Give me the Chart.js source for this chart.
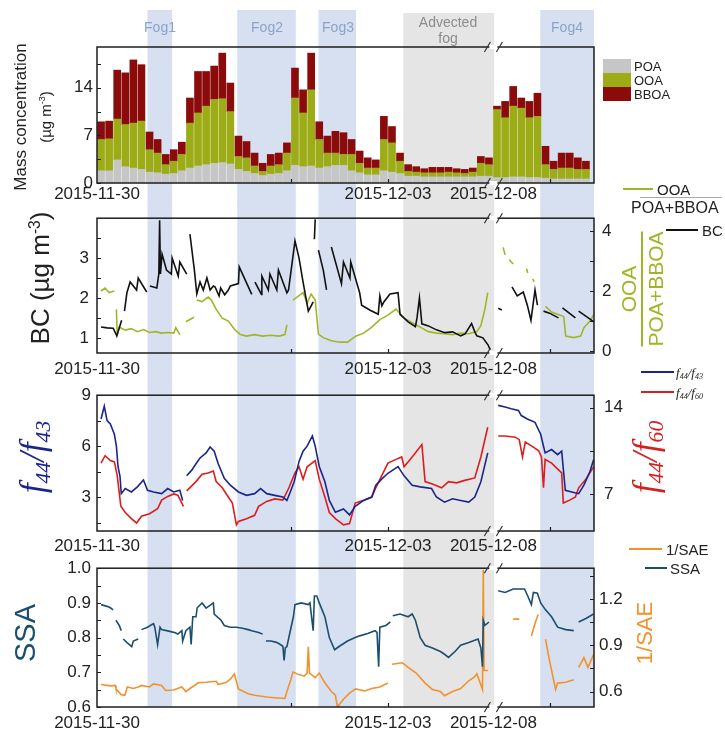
<!DOCTYPE html>
<html>
<head>
<meta charset="utf-8">
<script src="https://cdn.jsdelivr.net/npm/chart.js@4.4.0/dist/chart.umd.min.js"></script>
<style>
  body { margin: 0; background: #fff; font-family: "Liberation Sans", Arial, sans-serif; color: #222; }
  #page { position: relative; width: 725px; height: 729px; overflow: hidden; }
  canvas { position: absolute; left: 0; }
  .lbl { position: absolute; white-space: nowrap; line-height: 1; transform: translate(-50%, -50%); }
  .rot { transform: translate(-50%, -50%) rotate(-90deg); }
  .txt { position: absolute; white-space: nowrap; line-height: 1; transform: translateY(-50%); }
  .key { position: absolute; height: 0; border-top: 2px solid; }
  .sw { position: absolute; width: 28px; height: 14px; }
  .ser { font-family: "Liberation Serif", "DejaVu Serif", serif; font-style: italic; }
  sup { font-size: 0.6em; vertical-align: 0.6em; line-height: 0; }
  sub { font-size: 0.62em; vertical-align: -0.3em; line-height: 0; }
</style>
</head>
<body>
<div id="page">
  <canvas id="c1" width="725" height="201" style="top:0px"></canvas>
  <canvas id="c2" width="725" height="175" style="top:200px"></canvas>
  <canvas id="c3" width="725" height="177" style="top:375px"></canvas>
  <canvas id="c4" width="725" height="177" style="top:552px"></canvas>

  <div class="lbl" style="left:160px;top:27px;font-size:14px;color:#8ca3c9">Fog1</div>
  <div class="lbl" style="left:267px;top:27px;font-size:14px;color:#8ca3c9">Fog2</div>
  <div class="lbl" style="left:338px;top:27px;font-size:14px;color:#8ca3c9">Fog3</div>
  <div class="lbl" style="left:448px;top:22px;font-size:14px;color:#8c8c8c">Advected</div>
  <div class="lbl" style="left:448px;top:38px;font-size:14px;color:#8c8c8c">fog</div>
  <div class="lbl" style="left:567px;top:27px;font-size:14px;color:#8ca3c9">Fog4</div>

  <div class="lbl rot" style="left:20px;top:117px;font-size:17px">Mass concentration</div>
  <div class="lbl rot" style="left:45px;top:117px;font-size:15px">(µg m<sup>-3</sup>)</div>
  <div class="lbl rot" style="left:40px;top:278px;font-size:26px">BC (µg m<sup>-3</sup>)</div>
  <div class="lbl rot" style="left:642px;top:289px;font-size:21px;color:#a2b528;text-align:center">
    <div style="padding:0 2px 2px">OOA</div>
    <div style="border-top:2px solid #a2b528;padding-top:2px">POA+BBOA</div>
  </div>
  <div class="lbl rot ser" style="left:32px;top:457px;font-size:35px;color:#1b258a">f<sub>44</sub>/f<sub>43</sub></div>
  <div class="lbl rot ser" style="left:645px;top:457px;font-size:35px;color:#d42020">f<sub>44</sub>/f<sub>60</sub></div>
  <div class="lbl rot" style="left:25px;top:633px;font-size:29px;color:#1b4e6f">SSA</div>
  <div class="lbl rot" style="left:645px;top:633px;font-size:22px;color:#f2922c">1/SAE</div>

  <div class="sw" style="left:603px;top:59px;background:#c6c6c6"></div>
  <div class="txt" style="left:634px;top:66px;font-size:13px">POA</div>
  <div class="sw" style="left:603px;top:73px;background:#9bac16"></div>
  <div class="txt" style="left:634px;top:80px;font-size:13px">OOA</div>
  <div class="sw" style="left:603px;top:87px;background:#8b0b0b"></div>
  <div class="txt" style="left:634px;top:94px;font-size:13px">BBOA</div>

  <div class="key" style="left:623px;top:188px;width:30px;border-color:#a2b528"></div>
  <div class="txt" style="left:657px;top:189px;font-size:15px">OOA</div>
  <div class="key" style="left:640px;top:197px;width:82px;border-top-width:1px;border-color:#aaa"></div>
  <div class="txt" style="left:631px;top:208px;font-size:16px">POA+BBOA</div>
  <div class="key" style="left:666px;top:229px;width:32px;border-color:#111"></div>
  <div class="txt" style="left:702px;top:230px;font-size:15px">BC</div>

  <div class="key" style="left:641px;top:371px;width:33px;border-color:#1b258a"></div>
  <div class="txt ser" style="left:676px;top:372px;font-size:13px">f<sub>44</sub>/f<sub>43</sub></div>
  <div class="key" style="left:641px;top:391px;width:33px;border-color:#d42020"></div>
  <div class="txt ser" style="left:676px;top:392px;font-size:13px">f<sub>44</sub>/f<sub>60</sub></div>

  <div class="key" style="left:629px;top:548px;width:33px;border-color:#f2922c"></div>
  <div class="txt" style="left:666px;top:549px;font-size:15px">1/SAE</div>
  <div class="key" style="left:645px;top:567px;width:22px;border-color:#1b4e6f"></div>
  <div class="txt" style="left:670px;top:568px;font-size:15px">SSA</div>
</div>

<script>
// x is in plotted hours from 2015-11-30 00:00, with the gap to 2015-12-08 cut out at breakHour
const dateLabels = ['2015-11-30', '2015-12-03', '2015-12-08'];
const dateTickHours = [0, 72, 98.1];
const innerTickHours = [48, 72, 112];
const breakHour = 98.1;
const fogBands = [[12.5, 18.6], [34.7, 49.2], [54.8, 64.1], [109.7, 123]];
const advectedBand = [75.8, 98.3];

// panel 1: stacked mass concentrations, 2-hour bins
const barHours = [1, 3, 5, 7, 9, 11, 13, 15, 17, 19, 21, 23, 25, 27, 29, 31, 33, 35, 37, 39,
  41, 43, 45, 47, 49, 51, 53, 55, 57, 59, 61, 63, 65, 67, 69, 71, 73, 75, 77, 79,
  81, 83, 85, 87, 89, 91, 93, 95, 97, 99, 101, 103, 105, 107, 109, 111, 113, 115, 117, 119, 121];
const poa = [1.8, 1.8, 3.4, 2.4, 2.2, 2.0, 1.6, 1.5, 1.3, 1.4,
  1.8, 2.2, 2.5, 2.7, 2.9, 3.0, 2.8, 2.0, 1.7, 1.4,
  1.1, 1.3, 1.4, 1.8, 2.6, 2.4, 2.5, 2.2, 2.4, 2.6,
  2.6, 1.8, 1.5, 1.2, 1.2, 1.8, 1.6, 1.4, 1.0, 1.0,
  0.9, 0.9, 0.9, 0.9, 0.9, 0.9, 0.9, 1.0, 1.0, 0.8,
  0.8, 0.9, 0.9, 0.8, 0.8, 0.7, 0.6, 0.6, 0.6, 0.6, 0.6];
const ooa = [4.6, 4.7, 6.0, 6.2, 6.6, 7.1, 3.3, 2.9, 1.4, 1.8,
  2.4, 6.6, 7.8, 8.6, 9.4, 9.4, 7.7, 1.9, 2.0, 1.1,
  0.6, 1.2, 1.3, 2.6, 9.9, 7.9, 11.2, 4.2, 2.0, 1.8,
  1.6, 2.4, 1.4, 1.0, 1.0, 4.6, 4.3, 1.8, 0.7, 0.6,
  0.6, 0.6, 0.6, 0.7, 0.6, 0.5, 0.7, 1.9, 1.7, 10.0,
  8.8, 10.4, 10.1, 8.8, 9.0, 2.0, 1.4, 1.6, 1.6, 1.4, 1.4];
const bboa = [2.6, 2.6, 7.2, 7.6, 9.3, 8.3, 2.6, 2.0, 1.5, 1.7,
  1.8, 3.7, 6.1, 5.1, 4.9, 6.7, 4.2, 3.0, 2.4, 1.9,
  1.2, 1.7, 1.7, 1.5, 4.4, 3.4, 5.4, 2.6, 2.5, 3.2,
  3.2, 2.2, 1.8, 1.5, 1.2, 3.4, 2.4, 1.2, 1.0, 0.8,
  0.6, 0.8, 0.8, 0.7, 0.6, 0.6, 0.6, 1.0, 1.0, 0.5,
  2.4, 2.9, 1.5, 2.4, 3.4, 2.7, 1.2, 2.2, 2.2, 1.7, 1.2];

// panel 2: [hour, value], null breaks the line
const bcSeries = [[1, 1.27], [2.5, 1.25], [4, 1.24], [4.9, 1.05], [6.1, 1.44], [6.4, null],
  [6.8, 1.67], [7.4, 2.13], [8.2, 2.4], [9.8, 2.2], [10.2, 2.5], [12.3, 2.15], [12.7, null],
  [13.1, 2.3], [14.8, 2.25], [15.3, 2.6], [15.5, 3.95], [15.7, 2.6], [16.1, 3.1], [17.2, 2.7],
  [18.4, 2.6], [18.6, 3.0], [20.1, 2.55], [20.5, 2.9], [22.2, 2.6], [22.6, null],
  [23, 3.6], [24.1, 2.7], [24.7, 2.1], [25.5, 2.4], [26.3, 2.2], [27.2, 2.5], [28, 2.2],
  [28.8, 2.3], [29.2, 2.28], [30.2, 2.05], [30.6, 2.25], [31.6, 2.08], [32.5, 2.2], [33, 2.3],
  [35, 2.36], [35.2, 2.78], [38.3, 2.09], [38.7, null], [39.1, 2.4], [40.7, 2.09], [40.8, 2.55],
  [42.4, 2.2], [42.8, 2.6], [44.5, 2.2], [44.9, 2.7], [47, 2.13], [47.4, 2.2], [49, 3.43],
  [50, 3.0], [51, 2.4], [52.3, 1.67], [53, 1.8], [53.5, 1.9], [53.7, null], [53.8, 3.47],
  [54, 3.97], [54.3, null], [54.8, 3.2], [56, 2.7], [56.8, 2.2], [57.5, null], [58, 3.28],
  [60.5, 2.36], [61, 2.9], [62.6, 2.5], [62.8, 2.9], [65, 2.13], [65.5, 1.82], [67.5, 1.7],
  [69.6, 1.59], [70, 2.05], [70.5, 1.8], [71, 1.9], [72.5, 2.1], [74.5, 2.13], [75, 1.59],
  [77, 1.4], [78.8, 1.28], [79.2, 1.5], [79.8, 2.0], [80.4, 1.35], [82, 1.3], [84, 1.2],
  [86.1, 1.13], [88, 1.15], [90, 1.05], [91.1, 1.1], [92.7, 1.36], [93.5, 1.15], [94, 1.05],
  [95.5, 1.0], [96.8, 0.82], [97.3, 0.7], [97.5, null], [99.3, 1.74], [100.2, 1.7], [100.5, null],
  [102.7, 2.28], [104, 2.05], [105.5, 2.15], [106.5, 1.82], [107.4, 1.44], [108.4, 2.2],
  [109, 1.82], [109.5, null], [110.5, 1.67], [112, 1.62], [114.2, 1.5], [114.7, null],
  [115.2, 1.75], [118.4, 1.5], [118.8, null], [119.2, 1.67], [123, 1.4]];
const ratioSeries = [[1, 2.0], [2, 2.1], [3, 1.95], [4.3, 2.0], [4.6, null], [4.8, 1.39],
  [5.0, 0.57], [5.5, 0.8], [7, 0.7], [8.5, 0.75], [10, 0.65], [11.5, 0.72], [13, 0.62],
  [14.5, 0.65], [16, 0.6], [17.5, 0.62], [19, 0.6], [19.5, 0.78], [20.5, 0.55], [21, null],
  [22, 0.98], [24, 1.13], [24.5, null], [24.7, 1.7], [26, 1.65], [27.5, 1.8], [28.3, 1.7],
  [29.5, 1.39], [31, 1.1], [32.5, 1.0], [34, 0.73], [35.5, 0.55], [37, 0.5], [39, 0.55],
  [41, 0.5], [43, 0.53], [45, 0.5], [46.5, 0.55], [47, 0.88], [47.5, null], [48.5, 1.7],
  [50, 1.85], [51, 1.95], [52, 1.6], [53, 1.9], [54, 1.7], [54.8, 0.57], [56, 0.45],
  [58, 0.35], [60, 0.3], [62, 0.3], [64, 0.5], [66, 0.6], [68, 0.8], [70, 1.05], [72, 1.2],
  [74, 1.4], [76, 1.1], [78, 0.95], [80, 0.8], [82, 0.65], [84, 0.6], [86, 0.58], [88, 0.55],
  [90, 0.6], [92, 0.58], [94, 0.65], [95, 0.85], [96, 1.4], [96.7, 1.95], [97, null],
  [100.5, 3.45], [101, 3.2], [101.5, null], [102, 3.05], [103, 2.9], [103.5, null],
  [106.3, 2.75], [106.6, 2.6], [107, null], [107.8, 2.4], [108.2, 2.3], [108.5, null],
  [111, 1.49], [112.5, 1.3], [114.8, 1.19], [115.5, 1.15], [116, 0.5], [118, 0.45],
  [119.7, 0.5], [120.5, 0.78], [122, 1.0], [123.5, 1.34]];

// panel 3
const f43Series = [[1, 7.6], [1.8, 8.35], [2.5, 7.5], [3.3, 7.3], [4.3, 6.7], [4.8, 6.0],
  [5.2, 4.8], [5.7, 4.2], [6, 3.2], [7, 3.5], [8.5, 3.3], [10, 3.6], [11.5, 4.0], [12.5, 3.4],
  [14, 3.3], [16, 3.2], [17.5, 3.5], [19, 3.3], [20.5, 3.4], [21.2, 2.8], [21.6, null],
  [22.2, 4.25], [23.5, 4.6], [24.5, 4.96], [25.5, 5.3], [27, 5.6], [28, 5.95], [29, 5.7],
  [30, 4.96], [31.5, 4.1], [33, 3.7], [35, 3.3], [37, 3.1], [39, 3.2], [40.5, 3.5], [42, 3.2],
  [44, 3.1], [46, 3.0], [47, 2.8], [48, 3.4], [48.8, 3.9], [50, 5.1], [51, 5.7], [52, 6.0],
  [53.3, 6.6], [54, 6.0], [55, 4.8], [56.4, 3.9], [57.5, 2.8], [59, 2.1], [61, 2.3],
  [62.5, 1.95], [63.9, 2.46], [66, 2.8], [68, 3.0], [69, 3.7], [70.5, 4.07], [72, 4.4],
  [74.5, 4.8], [76, 4.25], [78, 3.7], [80, 3.6], [82.8, 3.5], [84, 3.0], [86, 2.7], [88, 2.9],
  [90, 2.8], [92, 2.7], [93.5, 3.0], [95, 3.9], [96.7, 5.6], [97, null],
  [99.3, 8.4], [101, 8.3], [102.5, 8.2], [104.3, 8.1], [105, 7.8], [106.5, 7.6], [108.4, 7.4],
  [109.8, 6.7], [110.9, 5.6], [112.5, 5.8], [114, 5.5], [115, 5.7], [115.9, 3.4], [117.5, 3.3],
  [119.2, 3.2], [120.5, 3.7], [122, 4.5], [122.9, 5.2]];
const f60Series = [[1, 9.5], [2, 10.1], [3.3, 9.7], [4.3, 9.6], [5, 8.5], [5.9, 6.0], [7, 5.5],
  [8.5, 5.0], [9.8, 4.65], [11, 5.2], [13, 5.4], [15, 5.8], [16, 6.5], [17.5, 6.8], [19, 7.0],
  [20, 6.9], [21.4, 6.0], [21.8, null], [22.2, 7.25], [24.5, 8.0], [26, 8.6], [27.5, 8.7],
  [28.8, 8.86], [29.5, 8.0], [31, 7.5], [32.5, 6.75], [33.5, 6.26], [34.5, 4.5], [35, 4.77],
  [37, 5.0], [39, 5.27], [40, 6.0], [42, 6.4], [44, 6.6], [46, 6.5], [47.5, 7.5], [49, 8.7],
  [50, 9.2], [51, 8.2], [52, 9.2], [54, 9.7], [55, 8.2], [56.4, 6.75], [57.5, 5.5], [59, 5.0],
  [61, 4.5], [62.5, 4.6], [63.9, 6.26], [66, 6.5], [68, 6.75], [69, 7.5], [70.5, 8.5], [72, 9.5],
  [74, 9.8], [75.4, 10.0], [76, 9.2], [78, 10.0], [80.4, 11.0], [81.2, 8.0], [83, 7.8],
  [85.3, 7.5], [87, 8.0], [89, 7.9], [91, 8.1], [93.5, 8.3], [95, 10.0], [96.7, 12.4], [97, null],
  [99.3, 11.7], [101, 11.7], [103.5, 11.6], [104.5, 11.4], [105.3, 10.0], [106, 11.2], [108, 10.8],
  [109.3, 10.5], [110, 10.0], [110.5, 7.5], [110.9, 9.8], [112.5, 9.5], [115, 8.7], [115.4, 6.26],
  [117, 6.5], [118.4, 6.75], [119.2, 7.5], [121, 8.2], [122.9, 9.2]];

// panel 4
const ssaSeries = [[1, 0.895], [2.5, 0.89], [3.3, 0.886], [4, 0.88], [4.2, null], [4.7, 0.85],
  [5.5, 0.835], [6, 0.82], [6.3, null], [6.5, 0.796], [7.5, 0.785], [8.6, 0.774], [9, 0.79],
  [10.2, 0.796], [10.5, null], [11, 0.823], [12.5, 0.83], [13.5, 0.837], [14, 0.84], [14.3, 0.83],
  [15, 0.78], [15.6, 0.83], [16, 0.823], [18, 0.818], [19.4, 0.814], [20, 0.81], [21, 0.82],
  [21.2, 0.79], [22, 0.82], [23, 0.83], [23.3, 0.78], [23.7, 0.86], [24.5, 0.86], [24.8, 0.886],
  [26, 0.9], [27, 0.885], [28.8, 0.9], [29, 0.868], [30.7, 0.85], [31.5, 0.835], [33, 0.83],
  [34.5, 0.83], [36, 0.827], [37.4, 0.823], [38.3, 0.82], [40, 0.815], [41, 0.81], [41.5, null],
  [41.8, 0.79], [43, 0.79], [44.2, 0.787], [45, 0.783], [46, 0.775], [46.3, 0.734], [46.6, 0.77],
  [47, 0.774], [47.4, 0.796], [48.6, 0.86], [49, 0.895], [50.5, 0.9], [52.3, 0.895], [52.7, 0.9],
  [53.5, 0.82], [53.8, 0.92], [54.4, 0.92], [55, 0.9], [56.4, 0.86], [57.5, 0.8], [58.8, 0.765],
  [60, 0.775], [62, 0.79], [63.9, 0.8], [65, 0.805], [67, 0.812], [68.8, 0.82], [69.3, 0.815],
  [69.7, 0.716], [70, 0.83], [71.5, 0.835], [72.6, 0.845], [73, null], [73.2, 0.863], [75, 0.868],
  [77, 0.86], [78, 0.868], [78.8, 0.85], [80, 0.8], [81.2, 0.778], [83, 0.77], [85, 0.76],
  [86, 0.752], [87, 0.743], [88.6, 0.76], [90, 0.778], [92, 0.786], [94.3, 0.796], [95, 0.77],
  [95.4, 0.716], [95.6, 0.85], [96, 0.835], [97, 0.845], [97.3, null],
  [99.3, 0.935], [101, 0.93], [103, 0.94], [105.8, 0.94], [106.6, 0.92], [107.5, 0.895],
  [108, 0.93], [109, 0.928], [109.8, 0.9], [111, 0.88], [112.5, 0.86], [114, 0.83], [116, 0.823],
  [118, 0.82], [118.5, null], [119.2, 0.845], [121, 0.855], [122.9, 0.868]];
const saeSeries = [[1, 0.646], [3.3, 0.637], [4.5, 0.64], [4.7, 0.617], [6, 0.58], [6.9, 0.576],
  [7.5, 0.63], [9, 0.62], [10.2, 0.63], [11, 0.64], [13, 0.63], [14, 0.65], [16, 0.64],
  [17, 0.607], [19, 0.61], [19.6, 0.617], [21, 0.63], [22, 0.6], [23, 0.62], [24.5, 0.646],
  [25, 0.657], [27, 0.66], [29.5, 0.667], [30, 0.646], [32, 0.66], [33, 0.68], [34, 0.714],
  [35, 0.617], [37.4, 0.586], [39, 0.576], [42, 0.565], [44, 0.56], [46.5, 0.555], [47, 0.6],
  [48, 0.68], [48.5, 0.727], [50, 0.71], [51.3, 0.7], [52, 0.72], [52.3, 0.89], [52.6, 0.72],
  [54, 0.69], [55, 0.72], [56.4, 0.657], [58, 0.6], [59, 0.576], [59.5, 0.5], [61, 0.55],
  [62.5, 0.59], [64, 0.617], [66.3, 0.604], [68, 0.62], [70, 0.63], [72, 0.655], [72.3, null],
  [73, 0.777], [75.6, 0.787], [77, 0.757], [79, 0.72], [81.2, 0.655], [83, 0.614], [85, 0.6],
  [86, 0.573], [88, 0.6], [90, 0.62], [92, 0.67], [93.5, 0.696], [94, 0.716], [95.4, 0.614],
  [95.6, 1.39], [95.8, 0.737], [96.8, 0.737], [97.1, null],
  [103, 1.07], [104.5, 1.07], [105, null], [107.5, 0.96], [108.5, 1.05], [109.2, 1.1],
  [109.5, null], [111, 0.94], [112, 0.8], [113.5, 0.614], [114, 0.655], [116, 0.66],
  [118, 0.676], [118.5, null], [119.2, 0.757], [120.5, 0.82], [121.5, 0.757], [122.9, 0.84]];

Chart.defaults.font.family = '"Liberation Sans", Arial, sans-serif';
Chart.defaults.color = '#222';

// fog shading behind everything, box + inward ticks + axis break on top
const framePlugin = {
  id: 'frame',
  beforeDraw(chart, args, opts) {
    const ctx = chart.ctx;
    const xs = chart.scales.x;
    const area = chart.chartArea;
    const bottom = opts.stopAtArea ? area.bottom : chart.height;
    ctx.save();
    ctx.fillStyle = '#d7e0f1';
    fogBands.forEach(b => {
      const x0 = xs.getPixelForValue(b[0]);
      const x1 = xs.getPixelForValue(b[1]);
      ctx.fillRect(x0, opts.fogTop, x1 - x0, bottom - opts.fogTop);
    });
    ctx.fillStyle = '#e5e5e5';
    const g0 = xs.getPixelForValue(advectedBand[0]);
    const g1 = xs.getPixelForValue(advectedBand[1]);
    ctx.fillRect(g0, opts.grayTop, g1 - g0, bottom - opts.grayTop);
    ctx.restore();
  },
  afterDraw(chart) {
    const ctx = chart.ctx;
    const a = chart.chartArea;
    const xs = chart.scales.x;
    ctx.save();
    ctx.strokeStyle = '#1e1e1e';
    ctx.lineWidth = 1.5;
    ctx.strokeRect(a.left, a.top, a.right - a.left, a.bottom - a.top);

    ctx.lineWidth = 1.2;
    ctx.beginPath();
    ['y', 'y2'].forEach(id => {
      const s = chart.scales[id];
      if (!s) return;
      const x0 = id === 'y' ? a.left : a.right;
      const dir = id === 'y' ? 1 : -1;
      s.ticks.forEach(t => {
        const py = Math.round(s.getPixelForValue(t.value)) + 0.5;
        ctx.moveTo(x0, py);
        ctx.lineTo(x0 + dir * 4, py);
      });
    });
    innerTickHours.forEach(h => {
      const px = Math.round(xs.getPixelForValue(h)) + 0.5;
      ctx.moveTo(px, a.bottom);
      ctx.lineTo(px, a.bottom - 4);
    });
    ctx.stroke();

    const bx = xs.getPixelForValue(breakHour);
    [a.top, a.bottom].forEach(y => {
      ctx.fillStyle = '#fff';
      ctx.fillRect(bx - 4, y - 2, 8, 4);
      ctx.strokeStyle = '#333';
      ctx.lineWidth = 1.2;
      ctx.beginPath();
      ctx.moveTo(bx - 9, y + 5);
      ctx.lineTo(bx - 3, y - 5);
      ctx.moveTo(bx + 3, y + 5);
      ctx.lineTo(bx + 9, y - 5);
      ctx.stroke();
    });
    ctx.restore();
  }
};

function timeAxis(height, pad) {
  return {
    type: 'linear',
    min: 0,
    max: 123,
    offset: false,
    grid: { display: false, drawTicks: false, tickLength: 0 },
    border: { display: false },
    afterFit: s => { s.height = height; },
    afterBuildTicks: s => { s.ticks = dateTickHours.map(v => ({ value: v })); },
    ticks: {
      autoSkip: false,
      maxRotation: 0,
      padding: pad,
      font: { size: 17 },
      callback: (v, i) => dateLabels[i]
    }
  };
}

function valueAxis(position, min, max, tickVals, labelVals, width, pad, digits) {
  return {
    type: 'linear',
    position: position,
    min: min,
    max: max,
    grid: { display: false, drawTicks: false, tickLength: 0 },
    border: { display: false },
    afterFit: s => { s.width = width; },
    afterBuildTicks: s => { s.ticks = tickVals.map(v => ({ value: v })); },
    ticks: {
      autoSkip: false,
      padding: pad,
      font: { size: 17 },
      callback: v => labelVals.includes(v) ? v.toFixed(digits) : ''
    }
  };
}

function lineSet(series, color, axis) {
  return {
    type: 'line',
    data: series.map(p => ({ x: p[0], y: p[1] })),
    borderColor: color,
    borderWidth: 1.6,
    pointRadius: 0,
    spanGaps: false,
    tension: 0,
    yAxisID: axis
  };
}

function barSet(values, color) {
  return {
    data: barHours.map((h, i) => ({ x: h, y: values[i] })),
    backgroundColor: color,
    borderWidth: 0,
    barThickness: 7
  };
}

function baseOptions(padTop, padRight, frame, scales) {
  return {
    responsive: false,
    animation: false,
    layout: { padding: { top: padTop, right: padRight, left: 0, bottom: 0 } },
    plugins: { legend: { display: false }, tooltip: { enabled: false }, frame: frame },
    scales: scales
  };
}

const massY = valueAxis('left', 0, 20, [0, 3.5, 7, 10.5, 14, 17.5], [0, 7, 14], 97, 4, 0);
massY.stacked = true;
const massX = timeAxis(18, 1);
massX.stacked = true;

new Chart(document.getElementById('c1'), {
  type: 'bar',
  data: {
    datasets: [barSet(poa, '#c6c6c6'), barSet(ooa, '#9bac16'), barSet(bboa, '#8b0b0b')]
  },
  options: baseOptions(47, 131, { fogTop: 10, grayTop: 13 }, { x: massX, y: massY }),
  plugins: [framePlugin]
});

new Chart(document.getElementById('c2'), {
  type: 'line',
  data: {
    datasets: [lineSet(bcSeries, '#111111', 'y'), lineSet(ratioSeries, '#a2b528', 'y2')]
  },
  options: baseOptions(5, 0, { fogTop: 0, grayTop: 0 }, {
    x: timeAxis(22, 6),
    y: valueAxis('left', 0.62, 4.0, [1, 1.5, 2, 2.5, 3, 3.5], [1, 2, 3], 97, 8, 0),
    y2: valueAxis('right', -0.06, 4.42, [0, 1, 2, 3, 4], [0, 2, 4], 131, 8, 0)
  }),
  plugins: [framePlugin]
});

new Chart(document.getElementById('c3'), {
  type: 'line',
  data: {
    datasets: [lineSet(f43Series, '#1b258a', 'y'), lineSet(f60Series, '#dd1c1c', 'y2')]
  },
  options: baseOptions(8, 0, { fogTop: 0, grayTop: 0 }, {
    x: timeAxis(21, 5),
    y: valueAxis('left', 1, 9, [1.5, 3, 4.5, 6, 7.5, 9], [3, 6, 9], 97, 6, 0),
    y2: valueAxis('right', 4, 15, [7, 10.5, 14], [7, 14], 131, 10, 0)
  }),
  plugins: [framePlugin]
});

new Chart(document.getElementById('c4'), {
  type: 'line',
  data: {
    datasets: [lineSet(ssaSeries, '#1b4e6f', 'y'), lineSet(saeSeries, '#f2922c', 'y2')]
  },
  options: baseOptions(7, 0, { fogTop: 0, grayTop: 0, stopAtArea: true }, {
    x: timeAxis(22, 6),
    y: valueAxis('left', 0.6, 1.0, [0.6, 0.65, 0.7, 0.75, 0.8, 0.85, 0.9, 0.95, 1.0], [0.6, 0.7, 0.8, 0.9, 1.0], 97, 6, 1),
    y2: valueAxis('right', 0.5, 1.4, [0.6, 0.75, 0.9, 1.05, 1.2, 1.35], [0.6, 0.9, 1.2], 131, 5, 1)
  }),
  plugins: [framePlugin]
});
</script>
</body>
</html>
